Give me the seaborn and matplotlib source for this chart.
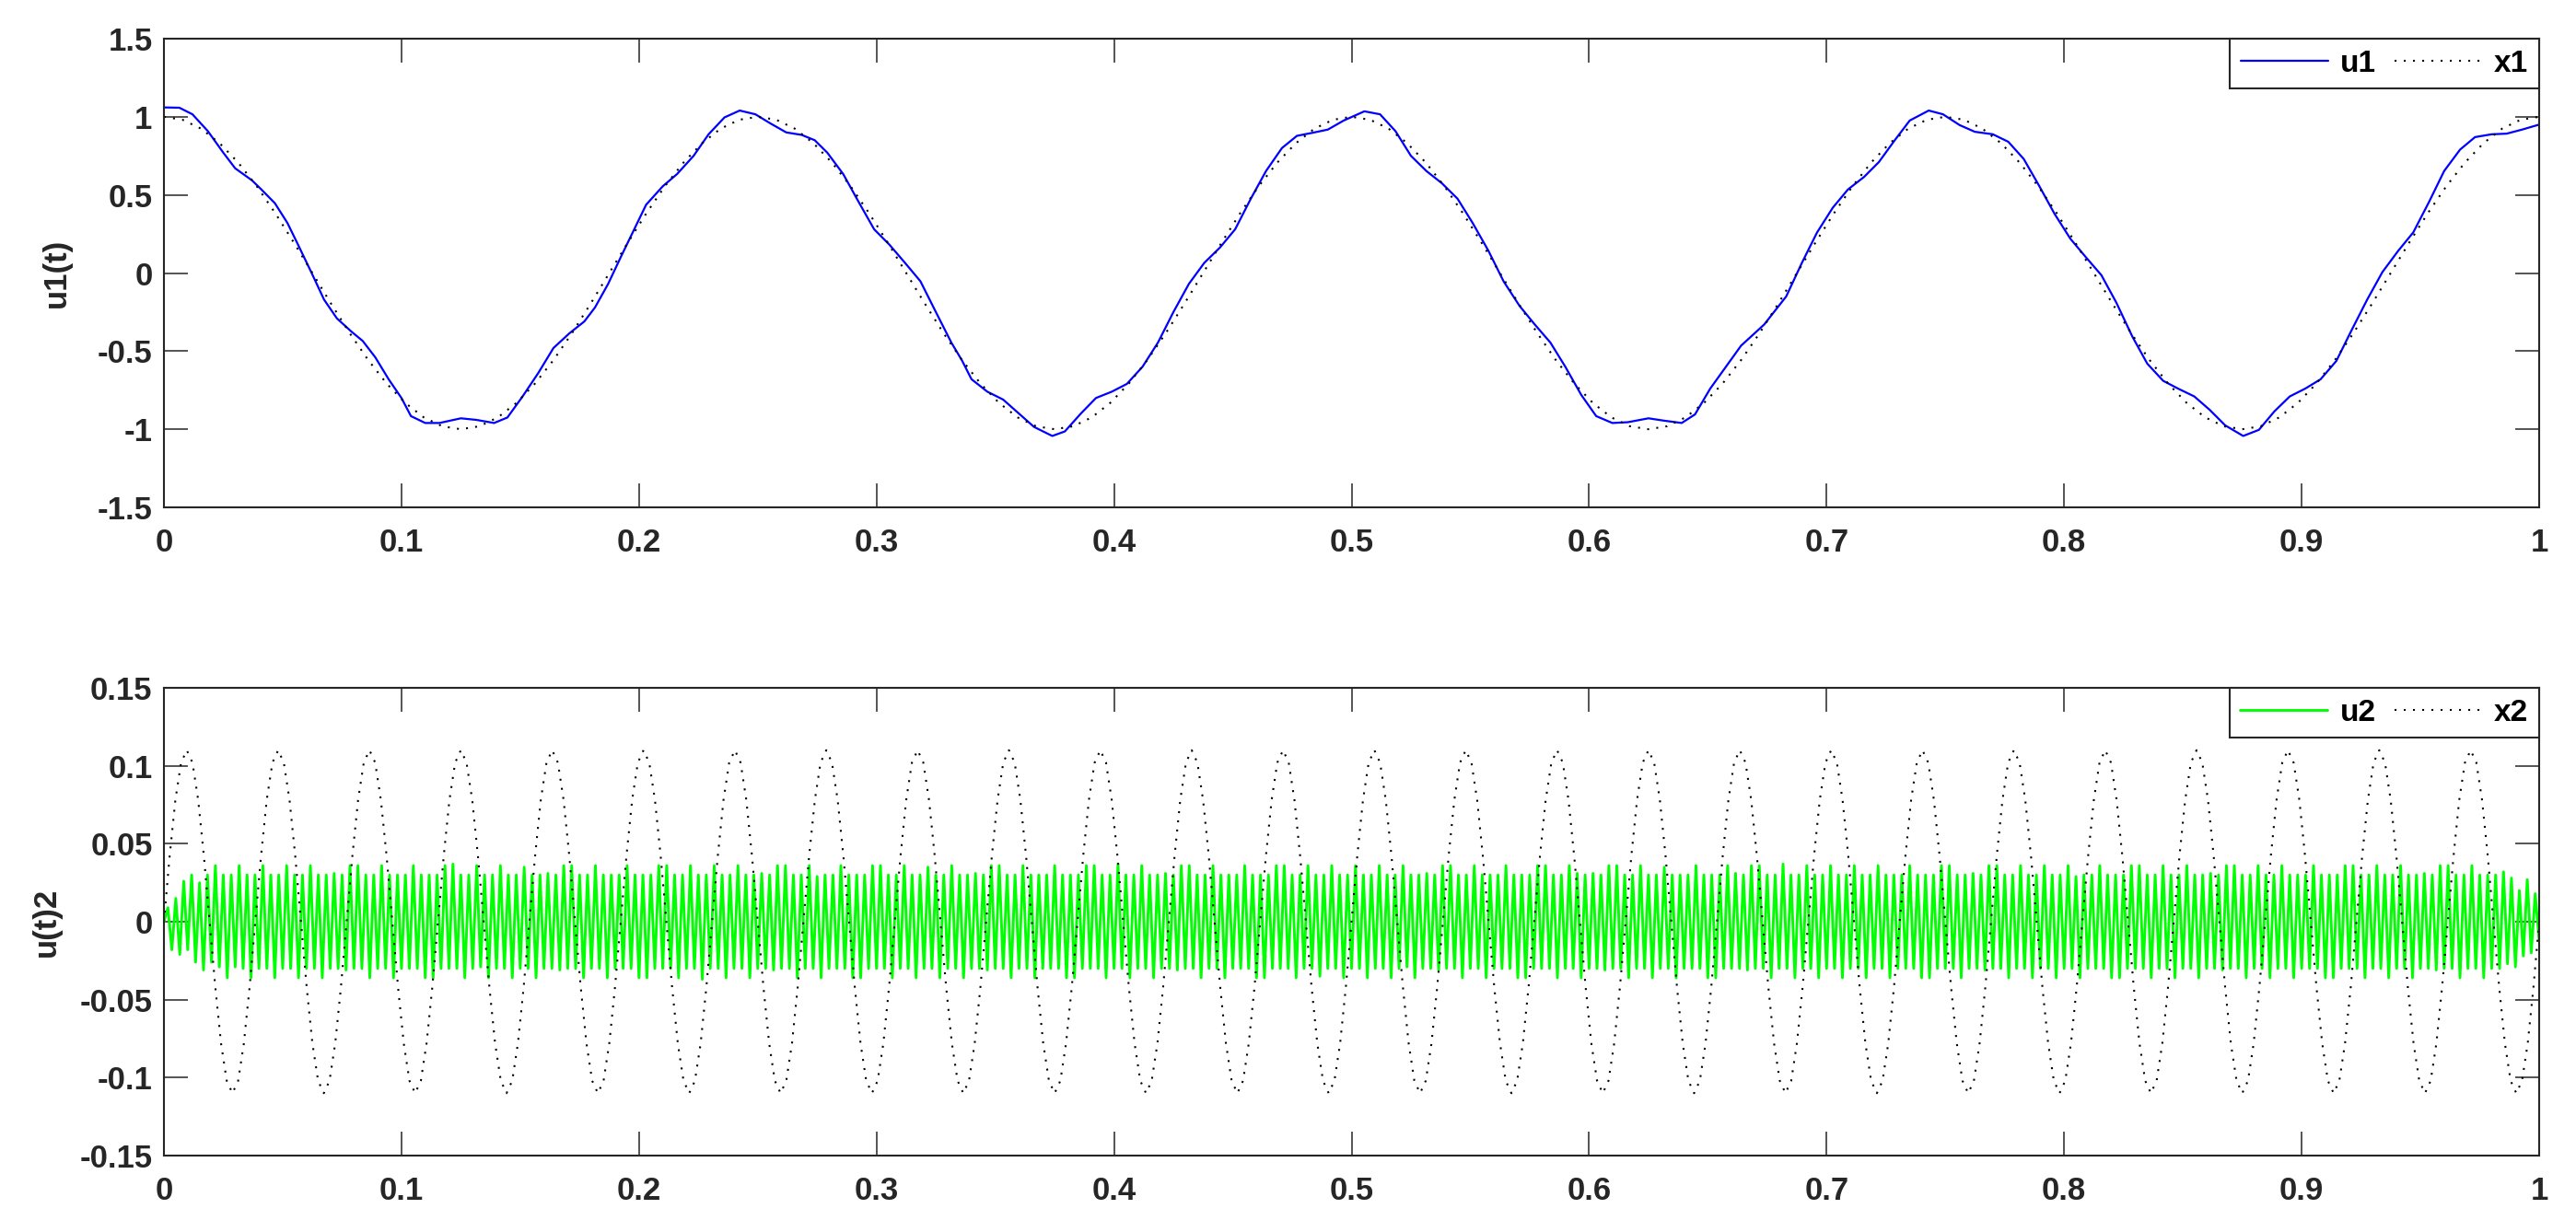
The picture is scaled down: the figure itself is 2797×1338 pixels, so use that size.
import numpy as np
import pandas as pd
import matplotlib
matplotlib.use("Agg")
import matplotlib.pyplot as plt
import seaborn as sns
from matplotlib.ticker import FixedLocator, FixedFormatter

# ---------------- data ----------------
# u1: blue solid curve, sample times and values
u1_t = [0.000, 0.0065, 0.012, 0.0185, 0.025, 0.030, 0.037, 0.041, 0.0467, 0.052,
        0.0565, 0.062, 0.0674, 0.0728, 0.079, 0.0837, 0.089, 0.0946, 0.100, 0.104,
        0.110, 0.116, 0.125, 0.1315, 0.139, 0.1446, 0.151, 0.1576, 0.164, 0.1707,
        0.177, 0.1815, 0.187, 0.1924, 0.198, 0.203, 0.210, 0.216, 0.223, 0.2293,
        0.236, 0.2424, 0.249, 0.2554, 0.262, 0.2685, 0.274, 0.2793, 0.286, 0.2924,
        0.299, 0.3054, 0.312, 0.3185, 0.325, 0.3315, 0.336, 0.340, 0.3467, 0.3533,
        0.360, 0.3663, 0.374, 0.3793, 0.386, 0.3924, 0.399, 0.4054, 0.412, 0.4185,
        0.425, 0.4315, 0.438, 0.4446, 0.451, 0.4576, 0.464, 0.4707, 0.477, 0.4837,
        0.490, 0.4967, 0.5054, 0.512, 0.5185, 0.525, 0.5315, 0.538, 0.5446, 0.551,
        0.5576, 0.564, 0.5707, 0.577, 0.5837, 0.590, 0.5967, 0.603, 0.6098, 0.6163,
        0.625, 0.6315, 0.639, 0.6446, 0.651, 0.6576, 0.664, 0.6737, 0.683, 0.6896,
        0.696, 0.7026, 0.709, 0.7157, 0.722, 0.7287, 0.735, 0.743, 0.749, 0.756,
        0.7624, 0.770, 0.7765, 0.783, 0.7896, 0.796, 0.8026, 0.809, 0.8157, 0.822,
        0.8287, 0.835, 0.8417, 0.848, 0.8548, 0.8613, 0.8678, 0.8754, 0.882, 0.8885,
        0.895, 0.9015, 0.908, 0.9146, 0.921, 0.9276, 0.934, 0.9407, 0.947, 0.9537,
        0.960, 0.9667, 0.973, 0.980, 0.9863, 0.9928, 1.000]
u1_v = [1.060, 1.058, 1.016, 0.908, 0.770, 0.670, 0.594, 0.535, 0.447, 0.320,
        0.180, 0.006, -0.170, -0.290, -0.376, -0.435, -0.540, -0.680, -0.800, -0.916,
        -0.960, -0.960, -0.930, -0.940, -0.960, -0.925, -0.790, -0.640, -0.480, -0.386,
        -0.310, -0.220, -0.070, 0.104, 0.280, 0.437, 0.555, 0.633, 0.750, 0.888,
        0.996, 1.040, 1.016, 0.957, 0.900, 0.884, 0.850, 0.770, 0.633, 0.457,
        0.280, 0.182, 0.065, -0.053, -0.250, -0.445, -0.560, -0.680, -0.760, -0.810,
        -0.900, -0.985, -1.043, -1.014, -0.900, -0.800, -0.760, -0.710, -0.600, -0.445,
        -0.250, -0.070, 0.065, 0.163, 0.280, 0.476, 0.653, 0.800, 0.878, 0.898,
        0.918, 0.976, 1.035, 1.016, 0.908, 0.750, 0.653, 0.575, 0.476, 0.320,
        0.143, -0.053, -0.210, -0.327, -0.445, -0.600, -0.780, -0.916, -0.960, -0.955,
        -0.930, -0.945, -0.960, -0.905, -0.740, -0.600, -0.465, -0.330, -0.150, 0.065,
        0.260, 0.418, 0.535, 0.614, 0.710, 0.850, 0.976, 1.040, 1.016, 0.947,
        0.904, 0.888, 0.840, 0.730, 0.555, 0.378, 0.220, 0.104, -0.014, -0.190,
        -0.406, -0.580, -0.690, -0.740, -0.790, -0.876, -0.975, -1.043, -1.004, -0.886,
        -0.790, -0.740, -0.680, -0.563, -0.367, -0.170, 0.006, 0.143, 0.260, 0.457,
        0.653, 0.790, 0.870, 0.888, 0.892, 0.918, 0.950]

# x1: black dotted curve, values (x1000) on an evenly spaced time grid 0..1
x1_v = [1000, 981, 924, 831, 707, 556, 383, 195, 0, -195, -383, -556, -707, -831, -924, -981,
        -1000, -981, -924, -831, -707, -556, -383, -195, 0, 195, 383, 556, 707, 831, 924, 981,
        1000, 981, 924, 831, 707, 556, 383, 195, 0, -195, -383, -556, -707, -831, -924, -981,
        -1000, -981, -924, -831, -707, -556, -383, -195, 0, 195, 383, 556, 707, 831, 924, 981,
        1000, 981, 924, 831, 707, 556, 383, 195, 0, -195, -383, -556, -707, -831, -924, -981,
        -1000, -981, -924, -831, -707, -556, -383, -195, 0, 195, 383, 556, 707, 831, 924, 981,
        1000, 981, 924, 831, 707, 556, 383, 195, 0, -195, -383, -556, -707, -831, -924, -981,
        -1000, -981, -924, -831, -707, -556, -383, -195, 0, 195, 383, 556, 707, 831, 924, 981,
        1000]

# x2: black dotted curve, values (x1000) on an evenly spaced time grid 0..1
x2_v = [0, 42, 78, 102, 110, 102, 78, 42, 0, -42, -78, -102, -110, -102, -78, -42,
        0, 42, 78, 102, 110, 102, 78, 42, 0, -42, -78, -102, -110, -102, -78, -42,
        0, 42, 78, 102, 110, 102, 78, 42, 0, -42, -78, -102, -110, -102, -78, -42,
        0, 42, 78, 102, 110, 102, 78, 42, 0, -42, -78, -102, -110, -102, -78, -42,
        0, 42, 78, 102, 110, 102, 78, 42, 0, -42, -78, -102, -110, -102, -78, -42,
        0, 42, 78, 102, 110, 102, 78, 42, 0, -42, -78, -102, -110, -102, -78, -42,
        0, 42, 78, 102, 110, 102, 78, 42, 0, -42, -78, -102, -110, -102, -78, -42,
        0, 42, 78, 102, 110, 102, 78, 42, 0, -42, -78, -102, -110, -102, -78, -42,
        0, 42, 78, 102, 110, 102, 78, 42, 0, -42, -78, -102, -110, -102, -78, -42,
        0, 42, 78, 102, 110, 102, 78, 42, 0, -42, -78, -102, -110, -102, -78, -42,
        0, 42, 78, 102, 110, 102, 78, 42, 0, -42, -78, -102, -110, -102, -78, -42,
        0, 42, 78, 102, 110, 102, 78, 42, 0, -42, -78, -102, -110, -102, -78, -42,
        0, 42, 78, 102, 110, 102, 78, 42, 0, -42, -78, -102, -110, -102, -78, -42,
        0, 42, 78, 102, 110, 102, 78, 42, 0, -42, -78, -102, -110, -102, -78, -42,
        0, 42, 78, 102, 110, 102, 78, 42, 0, -42, -78, -102, -110, -102, -78, -42,
        0, 42, 78, 102, 110, 102, 78, 42, 0, -42, -78, -102, -110, -102, -78, -42,
        0, 42, 78, 102, 110, 102, 78, 42, 0, -42, -78, -102, -110, -102, -78, -42,
        0, 42, 78, 102, 110, 102, 78, 42, 0, -42, -78, -102, -110, -102, -78, -42,
        0, 42, 78, 102, 110, 102, 78, 42, 0, -42, -78, -102, -110, -102, -78, -42,
        0, 42, 78, 102, 110, 102, 78, 42, 0, -42, -78, -102, -110, -102, -78, -42,
        0, 42, 78, 102, 110, 102, 78, 42, 0, -42, -78, -102, -110, -102, -78, -42,
        0, 42, 78, 102, 110, 102, 78, 42, 0, -42, -78, -102, -110, -102, -78, -42,
        0, 42, 78, 102, 110, 102, 78, 42, 0, -42, -78, -102, -110, -102, -78, -42,
        0, 42, 78, 102, 110, 102, 78, 42, 0, -42, -78, -102, -110, -102, -78, -42,
        0, 42, 78, 102, 110, 102, 78, 42, 0, -42, -78, -102, -110, -102, -78, -42,
        0, 42, 78, 102, 110, 102, 78, 42, 0, -42, -78, -102, -110, -102, -78, -42,
        0]

# u2: green curve, successive extremes (x1000) on an evenly spaced time grid 0..1
u2_v = [0, 9, -18, 15, -21, 26, -18, 30, -26, 25, -31, 30, -26, 36, -29, 30, -36, 30, -29, 36, -30, 30, -36, 30, -30,
        36, -30, 30, -36, 30, -30, 36, -30, 30, -36, 30, -30, 36, -30, 30, -36, 30, -30, 31, -30, 30, -31, 36, -30, 36, -30, 30, -36, 30, -30,
        36, -30, 30, -36, 30, -30, 30, -30, 36, -30, 30, -36, 30, -36, 30, -30, 36, -30, 37, -30, 30, -36, 30, -30, 36, -29, 30, -36, 30, -30,
        36, -30, 30, -36, 30, -30, 35, -30, 30, -36, 30, -30, 31, -30, 30, -31, 36, -30, 36, -30, 30, -36, 30, -30, 36, -30, 30, -36, 30, -30,
        30, -30, 36, -30, 30, -36, 30, -36, 30, -30, 36, -30, 36, -30, 30, -36, 30, -30, 36, -30, 30, -37, 30, -30, 36, -30, 30, -36, 30, -30,
        36, -30, 30, -36, 30, -30, 31, -30, 30, -31, 36, -30, 36, -30, 30, -36, 30, -30, 36, -30, 29, -36, 30, -30, 30, -30, 36, -30, 30, -36,
        30, -36, 30, -30, 36, -30, 36, -30, 30, -36, 30, -30, 36, -30, 30, -36, 30, -30, 35, -30, 30, -36, 30, -30, 36, -30, 30, -36, 30, -30,
        31, -30, 30, -31, 36, -30, 36, -30, 30, -36, 30, -30, 36, -30, 30, -36, 30, -30, 30, -30, 36, -30, 30, -36, 30, -36, 30, -30, 36, -30,
        36, -30, 30, -36, 30, -30, 37, -30, 30, -36, 30, -30, 36, -30, 30, -36, 30, -30, 31, -30, 30, -31, 36, -30, 36, -30, 30, -36, 30, -30,
        36, -30, 30, -36, 30, -30, 30, -30, 36, -30, 30, -36, 30, -36, 30, -30, 36, -30, 36, -30, 30, -36, 30, -30, 36, -30, 30, -35, 30, -30,
        36, -30, 30, -36, 30, -30, 36, -30, 30, -36, 30, -30, 36, -30, 30, -36, 30, -30, 36, -29, 30, -36, 30, -30, 31, -30, 30, -31, 36, -30,
        36, -30, 30, -36, 30, -30, 36, -30, 30, -36, 30, -30, 30, -30, 36, -30, 30, -36, 30, -36, 30, -30, 36, -30, 36, -30, 30, -36, 30, -30,
        36, -30, 31, -36, 30, -30, 31, -30, 30, -31, 36, -30, 36, -30, 30, -36, 30, -30, 36, -30, 30, -36, 30, -30, 35, -30, 30, -36, 30, -30,
        30, -30, 36, -30, 30, -36, 30, -36, 30, -30, 36, -30, 31, -30, 30, -31, 36, -30, 36, -30, 30, -36, 30, -30, 37, -30, 30, -36, 30, -30,
        36, -30, 30, -36, 30, -30, 36, -30, 30, -36, 30, -30, 36, -30, 30, -36, 30, -30, 36, -30, 30, -36, 30, -30, 30, -30, 36, -30, 30, -36,
        30, -36, 30, -30, 36, -30, 36, -30, 30, -36, 30, -30, 31, -30, 30, -31, 36, -30, 36, -30, 30, -36, 30, -30, 36, -30, 30, -36, 30, -30,
        36, -30, 30, -36, 30, -30, 36, -30, 29, -36, 30, -30, 30, -30, 36, -30, 30, -36, 30, -36, 30, -30, 36, -30, 36, -30, 30, -36, 30, -30,
        36, -30, 30, -36, 30, -30, 36, -30, 30, -36, 30, -30, 31, -30, 30, -31, 36, -30, 36, -30, 30, -36, 30, -30, 36, -30, 30, -36, 30, -30,
        36, -30, 30, -36, 30, -30, 30, -30, 36, -30, 30, -36, 30, -36, 30, -30, 36, -30, 36, -30, 30, -36, 30, -30, 36, -30, 30, -36, 30, -30,
        36, -30, 30, -36, 30, -30, 31, -30, 30, -31, 36, -30, 36, -30, 30, -36, 30, -30, 36, -30, 30, -36, 30, -30,
        30, -30, 32, -27, 28, -29, 20, -22, 27, -20, 18, -12]

x_ticks = [0, 0.1, 0.2, 0.3, 0.4, 0.5, 0.6, 0.7, 0.8, 0.9, 1]
x_tick_labels = ["0", "0.1", "0.2", "0.3", "0.4", "0.5", "0.6", "0.7", "0.8", "0.9", "1"]
y1_ticks = [-1.5, -1, -0.5, 0, 0.5, 1, 1.5]
y1_tick_labels = ["-1.5", "-1", "-0.5", "0", "0.5", "1", "1.5"]
y2_ticks = [-0.15, -0.1, -0.05, 0, 0.05, 0.1, 0.15]
y2_tick_labels = ["-0.15", "-0.1", "-0.05", "0", "0.05", "0.1", "0.15"]
series_labels = ["u1", "x1", "u2", "x2"]
y_labels = ["u1(t)", "u(t)2"]

# ---------------- tables ----------------
df_u1 = pd.DataFrame({"t": u1_t, "v": u1_v})
df_x1 = pd.DataFrame({"t": np.linspace(0, 1, len(x1_v)), "v": np.array(x1_v) / 1000.0})
df_x2 = pd.DataFrame({"t": np.linspace(0, 1, len(x2_v)), "v": np.array(x2_v) / 1000.0})
df_u2 = pd.DataFrame({"t": np.linspace(0, 1, len(u2_v)), "v": np.array(u2_v) / 1000.0})

# ---------------- style ----------------
sns.set_theme(style="white")
plt.rcParams["font.family"] = ["Liberation Sans", "DejaVu Sans"]
plt.rcParams["font.weight"] = "bold"
plt.rcParams["axes.labelweight"] = "bold"

AX_COL = "#262626"
FS = 25
DOT = (0, (1, 3.8))

fig = plt.figure(figsize=(27.97, 13.38), dpi=100, facecolor="white")
ax1 = fig.add_axes([0.06364, 0.58819, 0.92206, 0.38042])
ax2 = fig.add_axes([0.06364, 0.06203, 0.92206, 0.37967])

sns.lineplot(data=df_u1, x="t", y="v", ax=ax1, color="#0000ff", linewidth=1.6,
             label=series_labels[0], estimator=None, sort=False,
             solid_joinstyle="round", solid_capstyle="round")
sns.lineplot(data=df_x1, x="t", y="v", ax=ax1, color="black", linewidth=1.5,
             linestyle=DOT, label=series_labels[1], estimator=None, sort=False)
sns.lineplot(data=df_u2, x="t", y="v", ax=ax2, color="#00ff00", linewidth=2.1,
             label=series_labels[2], estimator=None, sort=False)
sns.lineplot(data=df_x2, x="t", y="v", ax=ax2, color="black", linewidth=1.5,
             linestyle=DOT, label=series_labels[3], estimator=None, sort=False)

for ax, yt, ytl, ylim, ylab, lx in [
    (ax1, y1_ticks, y1_tick_labels, (-1.5, 1.5), y_labels[0], -0.039),
    (ax2, y2_ticks, y2_tick_labels, (-0.15, 0.15), y_labels[1], -0.043),
]:
    ax.set_facecolor("white")
    ax.set_xlim(0, 1)
    ax.set_ylim(*ylim)
    ax.xaxis.set_major_locator(FixedLocator(x_ticks))
    ax.xaxis.set_major_formatter(FixedFormatter(x_tick_labels))
    ax.yaxis.set_major_locator(FixedLocator(yt))
    ax.yaxis.set_major_formatter(FixedFormatter(ytl))
    ax.tick_params(axis="both", which="major", direction="in", length=18.7, width=1.1,
                   color=AX_COL, labelcolor=AX_COL, labelsize=FS,
                   top=True, right=True, bottom=True, left=True)
    ax.tick_params(axis="x", pad=16)
    ax.tick_params(axis="y", pad=9)
    for lab in ax.get_xticklabels() + ax.get_yticklabels():
        lab.set_fontweight("bold")
    for sp in ax.spines.values():
        sp.set_visible(True)
        sp.set_color(AX_COL)
        sp.set_linewidth(1.5)
    ax.set_xlabel("")
    ax.set_ylabel(ylab, fontsize=FS, fontweight="bold", color=AX_COL)
    ax.yaxis.set_label_coords(lx, 0.5)
    ax.grid(False)
    leg = ax.legend(loc="upper right", ncol=2, fontsize=24, frameon=True,
                    fancybox=False, shadow=False, framealpha=1, edgecolor=AX_COL,
                    borderaxespad=0, borderpad=0.35, handlelength=2.85,
                    handletextpad=0.4, columnspacing=0.6)
    leg.get_frame().set_linewidth(1.5)
    for txt in leg.get_texts():
        txt.set_fontweight("bold")
        txt.set_color("black")

fig.savefig("out.png", dpi=100, facecolor="white")
